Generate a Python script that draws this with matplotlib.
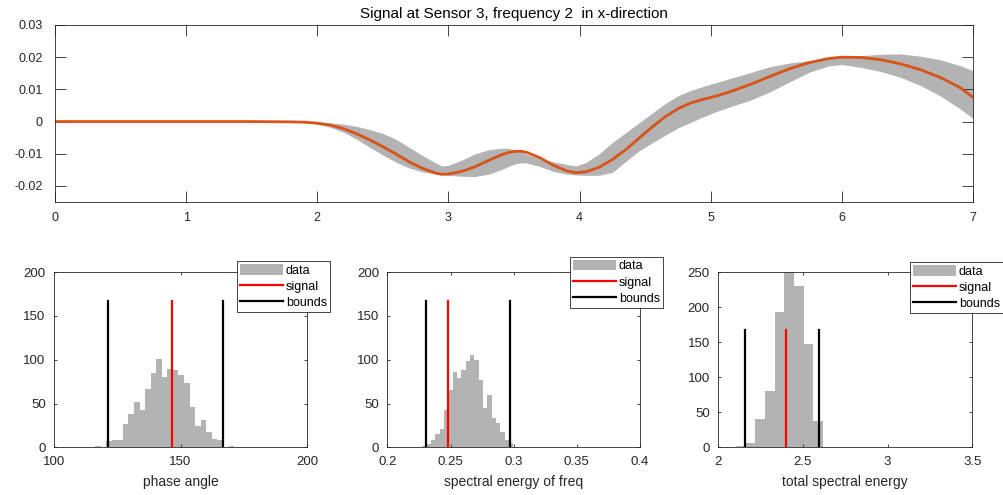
import numpy as np
import matplotlib
matplotlib.use("Agg")
import matplotlib.pyplot as plt
from matplotlib.patches import Patch
from matplotlib.lines import Line2D

plt.rcParams['font.family'] = ['Liberation Sans', 'DejaVu Sans']

# top panel: signal and its uncertainty band
t = [0, 1.5, 1.8, 1.9, 2.0, 2.1, 2.2, 2.3, 2.4, 2.5, 2.6, 2.7, 2.8, 2.9, 2.95, 3.0,
     3.1, 3.2, 3.3, 3.4, 3.45, 3.5, 3.55, 3.6, 3.7, 3.8, 3.9, 3.97, 4.05, 4.15, 4.25,
     4.35, 4.45, 4.55, 4.65, 4.75, 4.85, 4.95, 5.05, 5.15, 5.3, 5.45, 5.6, 5.75, 5.9,
     6.0, 6.15, 6.3, 6.45, 6.6, 6.75, 6.9, 7.0]
signal = [0, 0, -0.0001, -0.0002, -0.0005, -0.0011, -0.0022, -0.0038, -0.0057, -0.0078,
          -0.0101, -0.0125, -0.0145, -0.0160, -0.0164, -0.0163, -0.0155, -0.0141, -0.0122,
          -0.0104, -0.0097, -0.0093, -0.0092, -0.0096, -0.0113, -0.0136, -0.0153, -0.0159,
          -0.0156, -0.0142, -0.0118, -0.0088, -0.0053, -0.0018, 0.0014, 0.0040, 0.0058,
          0.0070, 0.0080, 0.0093, 0.0115, 0.0140, 0.0164, 0.0183, 0.0196, 0.0200, 0.0199,
          0.0192, 0.0179, 0.0161, 0.0137, 0.0106, 0.0075]
upper = [0, 0, 0, 0, -0.0002, -0.0004, -0.0008, -0.0015, -0.0025, -0.0037, -0.0055,
         -0.0080, -0.0105, -0.0128, -0.0138, -0.0136, -0.0120, -0.0101, -0.0088, -0.0083,
         -0.0083, -0.0087, -0.0093, -0.0102, -0.0116, -0.0125, -0.0133, -0.0138, -0.0127,
         -0.0100, -0.0065, -0.0035, -0.0005, 0.0025, 0.0055, 0.0080, 0.0097, 0.0110,
         0.0122, 0.0134, 0.0152, 0.0170, 0.0182, 0.0189, 0.0196, 0.0202, 0.0205, 0.0209,
         0.0210, 0.0203, 0.0192, 0.0174, 0.0158]
lower = [0, 0, -0.0001, -0.0003, -0.0008, -0.0018, -0.0033, -0.0055, -0.0080, -0.0104,
         -0.0126, -0.0144, -0.0156, -0.0163, -0.0165, -0.0167, -0.0170, -0.0171, -0.0164,
         -0.0150, -0.0141, -0.0133, -0.0128, -0.0129, -0.0140, -0.0155, -0.0163, -0.0166,
         -0.0167, -0.0167, -0.0158, -0.0125, -0.0092, -0.0067, -0.0043, -0.0020, -0.0002,
         0.0016, 0.0032, 0.0046, 0.0066, 0.0092, 0.0123, 0.0153, 0.0173, 0.0177, 0.0168,
         0.0155, 0.0137, 0.0112, 0.0080, 0.0040, 0.0010]

# histograms: bin start, bin width, counts, signal value, bounds
phase_start, phase_width = 116.2, 2.2
phase_counts = [2, 0, 7, 8, 9, 27, 38, 52, 43, 67, 85, 101, 80, 90, 88, 83, 74, 46, 25,
                31, 18, 10, 8, 0, 2]
phase_signal = 146.7
phase_bounds = [121.5, 166.7]

freq_start, freq_width = 0.2243, 0.00343
freq_counts = [1, 2, 4, 8, 15, 21, 43, 65, 86, 79, 88, 98, 105, 100, 77, 45, 60, 34, 28,
               18, 8, 5]
freq_signal = 0.248
freq_bounds = [0.2302, 0.2971]

total_start, total_width = 2.1045, 0.0571
total_counts = [2, 6, 41, 80, 193, 252, 230, 148, 38]
total_signal = 2.398
total_bounds = [2.16, 2.596]

line_height = 166.7

dark = '#262626'
grey = '#b3b3b3'

fig = plt.figure(figsize=(10.04, 4.95), dpi=100)

ax = fig.add_axes([0.0548, 0.5919, 0.9143, 0.3576])
ax.fill_between(t, lower, upper, color=grey, linewidth=0)
ax.plot(t, signal, color='#D95319', linewidth=2)
ax.set_xlim(0, 7)
ax.set_ylim(-0.025, 0.03)
ax.set_xticks(range(8))
ax.set_xticklabels([str(i) for i in range(8)])
yt = [-0.02, -0.01, 0, 0.01, 0.02, 0.03]
ax.set_yticks(yt)
ax.set_yticklabels(['%g' % v for v in yt])
ax.tick_params(direction='in', length=8, width=0.6, top=True, right=True,
               labelsize=9, colors=dark)
ax.tick_params(axis='x', pad=7)
ax.tick_params(axis='y', pad=9)
ax.set_title('Signal at Sensor 3, frequency 2  in x-direction', fontsize=11,
             color='black', pad=5)
for s in ax.spines.values():
    s.set_color(dark)
    s.set_linewidth(0.6)

panels = [
    ([0.0538, 0.0960, 0.252, 0.3545], phase_start, phase_width, phase_counts,
     phase_signal, phase_bounds, (100, 200), [100, 150, 200], (0, 200),
     'phase angle', (330 / 1004, 1 - 261 / 495)),
    ([0.3858, 0.0960, 0.2517, 0.3545], freq_start, freq_width, freq_counts,
     freq_signal, freq_bounds, (0.2, 0.4), [0.2, 0.25, 0.3, 0.35, 0.4], (0, 200),
     'spectral energy of freq', (663 / 1004, 1 - 256.7 / 495)),
    ([0.7154, 0.0960, 0.253, 0.3545], total_start, total_width, total_counts,
     total_signal, total_bounds, (2, 3.5), [2, 2.5, 3, 3.5], (0, 250),
     'total spectral energy', (1003 / 1004, 1 - 262 / 495)),
]

for pos, start, width, counts, sig, bnds, xl, xt, yl, lab, anchor in panels:
    a = fig.add_axes(pos)
    edges = start + width * np.arange(len(counts))
    a.bar(edges, counts, width=width, align='edge', color=grey, linewidth=0)
    a.plot([sig, sig], [0, line_height], color='red', linewidth=1.6)
    for b in bnds:
        a.plot([b, b], [0, line_height], color='black', linewidth=1.6)
    a.set_xlim(*xl)
    a.set_ylim(*yl)
    a.set_xticks(xt)
    a.set_xticklabels(['%g' % v for v in xt])
    a.set_yticks(np.arange(yl[0], yl[1] + 1, 50))
    a.tick_params(direction='in', length=2.5, width=0.6, top=True, right=True,
                  labelsize=9.5, colors=dark)
    a.tick_params(axis='x', pad=6)
    a.tick_params(axis='y', pad=6)
    a.set_xlabel(lab, fontsize=10, color=dark, labelpad=5)
    for s in a.spines.values():
        s.set_color(dark)
        s.set_linewidth(0.6)
    handles = [Patch(facecolor=grey, edgecolor='none'),
               Line2D([], [], color='red', linewidth=1.6),
               Line2D([], [], color='black', linewidth=1.6)]
    leg = fig.legend(handles, ['data', 'signal', 'bounds'], loc='upper right',
                     bbox_to_anchor=anchor, bbox_transform=fig.transFigure,
                     fontsize=9, frameon=True, fancybox=False, framealpha=1,
                     edgecolor=dark, handlelength=3.4, handleheight=0.9,
                     handletextpad=0.25, borderpad=0.25, labelspacing=0.3,
                     borderaxespad=0)
    leg.get_frame().set_linewidth(0.6)

fig.savefig('out.png', dpi=100)
